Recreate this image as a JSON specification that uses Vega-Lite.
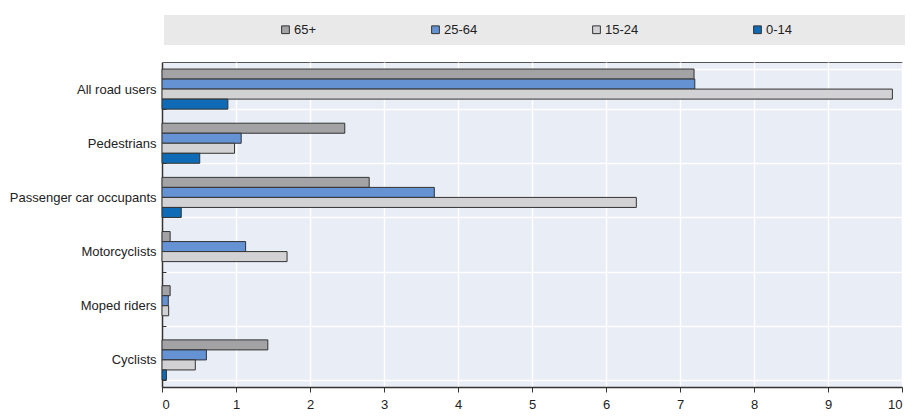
{
  "$schema": "https://vega.github.io/schema/vega-lite/v6.json",
  "width": 740,
  "height": 325,
  "autosize": {"type": "none"},
  "padding": {"left": 162, "top": 62, "right": 21, "bottom": 30},
  "background": "white",
  "data": {
    "values": [
      {"road_user": "All road users", "age": "65+", "rate": 7.19},
      {"road_user": "All road users", "age": "25-64", "rate": 7.2},
      {"road_user": "All road users", "age": "15-24", "rate": 9.87},
      {"road_user": "All road users", "age": "0-14", "rate": 0.89},
      {"road_user": "Pedestrians", "age": "65+", "rate": 2.47},
      {"road_user": "Pedestrians", "age": "25-64", "rate": 1.07},
      {"road_user": "Pedestrians", "age": "15-24", "rate": 0.98},
      {"road_user": "Pedestrians", "age": "0-14", "rate": 0.51},
      {"road_user": "Passenger car occupants", "age": "65+", "rate": 2.8},
      {"road_user": "Passenger car occupants", "age": "25-64", "rate": 3.68},
      {"road_user": "Passenger car occupants", "age": "15-24", "rate": 6.41},
      {"road_user": "Passenger car occupants", "age": "0-14", "rate": 0.26},
      {"road_user": "Motorcyclists", "age": "65+", "rate": 0.11},
      {"road_user": "Motorcyclists", "age": "25-64", "rate": 1.13},
      {"road_user": "Motorcyclists", "age": "15-24", "rate": 1.69},
      {"road_user": "Moped riders", "age": "65+", "rate": 0.11},
      {"road_user": "Moped riders", "age": "25-64", "rate": 0.085},
      {"road_user": "Moped riders", "age": "15-24", "rate": 0.09},
      {"road_user": "Cyclists", "age": "65+", "rate": 1.43},
      {"road_user": "Cyclists", "age": "25-64", "rate": 0.6},
      {"road_user": "Cyclists", "age": "15-24", "rate": 0.45},
      {"road_user": "Cyclists", "age": "0-14", "rate": 0.06}
    ]
  },
  "mark": {"type": "bar", "stroke": "#333333", "strokeWidth": 1},
  "encoding": {
    "y": {
      "field": "road_user",
      "type": "nominal",
      "sort": ["All road users", "Pedestrians", "Passenger car occupants", "Motorcyclists", "Moped riders", "Cyclists"],
      "scale": {"paddingInner": 0.26, "paddingOuter": 0.13},
      "axis": {
        "title": null,
        "tickBand": "extent",
        "grid": true,
        "gridColor": "white",
        "gridWidth": 1.5,
        "tickSize": -4,
        "tickColor": "#333333",
        "domainColor": "#333333",
        "domainWidth": 1.5,
        "labelPadding": 10,
        "labelFontSize": 13,
        "labelColor": "#222222"
      }
    },
    "yOffset": {
      "field": "age",
      "type": "nominal",
      "sort": ["65+", "25-64", "15-24", "0-14"],
      "scale": {"paddingInner": 0, "paddingOuter": 0}
    },
    "x": {
      "field": "rate",
      "type": "quantitative",
      "scale": {"domain": [0, 10], "nice": false},
      "axis": {
        "title": null,
        "values": [0, 1, 2, 3, 4, 5, 6, 7, 8, 9, 10],
        "grid": true,
        "gridColor": "white",
        "gridWidth": 1.5,
        "tickSize": 5,
        "tickColor": "#333333",
        "domainColor": "#333333",
        "domainWidth": 1.5,
        "labelPadding": 6,
        "labelFontSize": 13,
        "labelColor": "#222222"
      }
    },
    "color": {
      "field": "age",
      "type": "nominal",
      "scale": {
        "domain": ["65+", "25-64", "15-24", "0-14"],
        "range": ["#a3a3a6", "#6592d3", "#d2d2d5", "#0f6bb5"]
      },
      "legend": {
        "orient": "none",
        "legendX": 2,
        "legendY": -47,
        "direction": "horizontal",
        "fillColor": "#e9e9e9",
        "padding": 8,
        "title": " ",
        "titleOrient": "right",
        "titlePadding": 105,
        "titleFontSize": 10,
        "symbolType": "square",
        "symbolSize": 60,
        "symbolOffset": 107,
        "symbolStrokeColor": "#333333",
        "symbolStrokeWidth": 1,
        "symbolOpacity": 1,
        "labelOffset": 2,
        "columnPadding": 5,
        "labelFontSize": 13,
        "labelColor": "#222222"
      }
    }
  },
  "config": {
    "font": "Liberation Sans Narrow, Arial Narrow, Liberation Sans, sans-serif",
    "view": {"fill": "#e9edf5", "stroke": "#555555"}
  }
}
